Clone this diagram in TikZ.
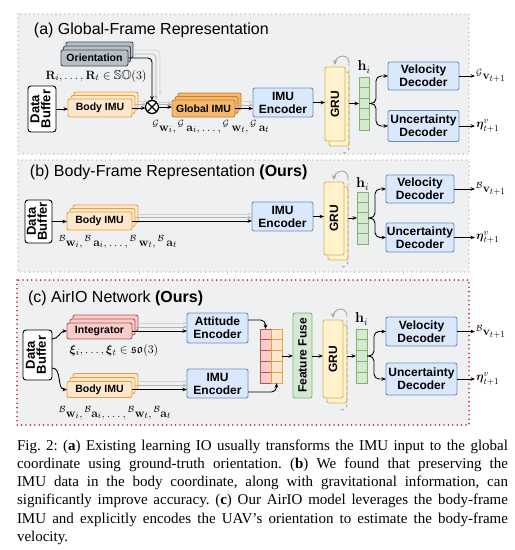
\documentclass[tikz,border=0pt]{standalone}
\usepackage[no-math]{fontspec}
\setmainfont{Liberation Serif}
\newfontfamily\dsans{Liberation Sans}
\usepackage{amsmath,amssymb}
\usepackage{graphicx}
\usetikzlibrary{arrows.meta,calc}
\definecolor{panelbg}{HTML}{EFF0F2}
\definecolor{pgray}{HTML}{BDBDBD}
\definecolor{pkhaki}{HTML}{C9C3AE}
\definecolor{pred}{HTML}{B52A2A}
\definecolor{encfill}{HTML}{DAE8FC}
\definecolor{encdraw}{HTML}{6C8EBF}
\definecolor{grnfill}{HTML}{D5E8D4}
\definecolor{grndraw}{HTML}{82B366}
\definecolor{gruf}{HTML}{FFF2CC}
\definecolor{grud}{HTML}{D6B656}
\definecolor{imuf}{HTML}{FFE6CC}
\definecolor{imud}{HTML}{E3A33B}
\definecolor{gimuf}{HTML}{F5B76C}
\definecolor{gimud}{HTML}{C4802A}
\definecolor{intf}{HTML}{F8CECC}
\definecolor{intd}{HTML}{B85450}
\definecolor{orif}{HTML}{B7BEC6}
\definecolor{orid}{HTML}{454C55}
\newcommand\mydbtext{\begin{tabular}{@{}c@{}}Data\\[-3pt]Buffer\end{tabular}}
\tikzset{
  every node/.style={inner sep=0pt, outer sep=0pt},
  panel/.style={fill=panelbg, line width=1.6pt, dash pattern=on 0pt off 4.4pt, line cap=round},
  ptitle/.style={anchor=west, font=\dsans\fontsize{16}{18}\selectfont},
  blk/.style={draw, rounded corners=2pt, line width=0.9pt, font=\dsans\bfseries\fontsize{12}{13}\selectfont, align=center},
  sblk/.style={blk, font=\dsans\bfseries\fontsize{10.5}{12}\selectfont},
  db/.style={blk, fill=white, draw=black, rounded corners=3pt, font=\dsans\bfseries\fontsize{13}{14}\selectfont},
  enc/.style={blk, fill=encfill, draw=encdraw},
  imu/.style={sblk, fill=imuf, draw=imud},
  gimu/.style={sblk, fill=gimuf, draw=gimud},
  intg/.style={sblk, fill=intf, draw=intd},
  ori/.style={sblk, fill=orif, draw=orid},
  gru/.style={blk, fill=gruf, draw=grud},
  ffuse/.style={blk, fill=grnfill, draw=grndraw},
  hcell/.style={draw=grndraw, fill=grnfill, line width=0.8pt},
  rcell/.style={draw=intd, fill=intf, line width=0.8pt},
  ocell/.style={draw=imud, fill=imuf, line width=0.8pt},
  mlab/.style={font=\fontsize{13}{15}\selectfont},
  hlab/.style={font=\fontsize{14}{16}\selectfont},
  arr/.style={-{Stealth[length=4.5pt,width=3.6pt]}, line width=0.9pt},
  garr/.style={-{Stealth[length=4pt,width=3.2pt]}, line width=0.7pt, draw=gray!60},
  garrl/.style={-{Stealth[length=4pt,width=3.2pt]}, line width=0.7pt, draw=gray!35},
  loopc/.style={draw=gray!70, line width=0.9pt},
  capt/.style={anchor=base west, font=\fontsize{15}{18}\selectfont\frenchspacing},
}
\begin{document}
\begin{tikzpicture}[x=1pt,y=-1pt]
\useasboundingbox (0,0) rectangle (515,550);
\fill[white] (0,0) rectangle (515,550);

% ---------------- panels
\draw[panel, draw=pgray] (18,14) rectangle (469,154);
\draw[panel, draw=pkhaki] (18,160) rectangle (469,272);
\draw[panel, draw=pred, line width=1.8pt] (17,280) rectangle (469,425);

\node[ptitle] (tA) at (34,30) {(a) Global-Frame Representation};
\node[ptitle] (tB) at (30,172) {(b) Body-Frame Representation \textbf{(Ours)}};
\node[ptitle] (tC) at (28,298) {(c) AirIO Network \textbf{(Ours)}};

% ================= panel (a)
\node[db, minimum width=28, minimum height=46] (dbA) at (42,109) {\rotatebox{90}{\mydbtext}};
\node[ori, minimum width=67, minimum height=16] (orA2) at (99.5,50) {};
\node[ori, minimum width=67, minimum height=16] (orA1) at (97,54) {};
\node[ori, minimum width=67, minimum height=16] (orA) at (94.5,58) {Orientation};
\node[imu, minimum width=64, minimum height=18] (bA2) at (106,101) {};
\node[imu, minimum width=64, minimum height=18] (bA1) at (103,104.5) {};
\node[imu, minimum width=64, minimum height=18] (bA) at (100,108) {Body IMU};
\node[circle, draw, line width=1.3pt, minimum size=13, fill=white] (otA) at (152,107) {};
\draw[line width=1.3pt] (otA.north west) -- (otA.south east) (otA.north east) -- (otA.south west);
\node[gimu, minimum width=63, minimum height=17] (gA2) at (209.5,101.5) {};
\node[gimu, minimum width=63, minimum height=17] (gA1) at (206.5,105) {};
\node[gimu, minimum width=63, minimum height=17] (gA) at (203.5,108.5) {Global IMU};
\node[enc, minimum width=60, minimum height=29] (encA) at (283,102.5) {IMU\\Encoder};
\node[gru, minimum width=20, minimum height=74] (gruA1) at (339,109) {};
\node[gru, minimum width=20, minimum height=74] (gruA) at (335,104) {\rotatebox{90}{GRU}};
\foreach \k in {0,...,4} \node[hcell, minimum width=10, minimum height=10.6] (hA\k) at (364,82.3+10.6*\k) {};
\node[hlab] (hlA) at (364,67) {$\mathbf{h}_i$};
\node[enc, minimum width=71, minimum height=28] (velA) at (423.5,76) {Velocity\\Decoder};
\node[enc, minimum width=71, minimum height=31] (uncA) at (423.5,126) {Uncertainty\\Decoder};
\coordinate (ovA) at (475,76);
\coordinate (ouA) at (475,126);
\node[mlab, anchor=west] (lvA) at (476,76) {$^{\mathcal{G}}\mathbf{v}_{t+1}$};
\node[mlab, anchor=west] (luA) at (476,126) {$\boldsymbol{\eta}^{v}_{t+1}$};
\node[mlab] (lRA) at (96,76) {$\mathbf{R}_i,\ldots,\mathbf{R}_t\in\mathbb{SO}(3)$};
\node[mlab] (lGA) at (211,127) {${}^{\mathcal{G}}\mathbf{w}_i, {}^{\mathcal{G}}\,\mathbf{a}_i,\ldots, {}^{\mathcal{G}}\,\mathbf{w}_t, {}^{\mathcal{G}}\,\mathbf{a}_t$};

\draw[arr] (dbA.east) -- (dbA.east -| bA.west);
\draw[garrl, rounded corners=4] (orA2.east) -| ($(otA.north)+(8,-6)$);
\draw[garr, rounded corners=4] (orA1.east) -| ($(otA.north)+(4,-1)$);
\draw[arr, rounded corners=4] (orA.east) -| (otA.north);
\draw[garrl] (bA2.east) -- ($(bA2.east -| otA.west)+(3,0)$);
\draw[garr] (bA1.east) -- ($(bA1.east -| otA.west)+(1,0)$);
\draw[arr] (bA.east) -- (bA.east -| otA.west);
\draw[garrl] ($(otA.east)+(-2,-5)$) -- ($(otA.east -| gA.west)+(0,-5)$);
\draw[garr] ($(otA.east)+(-1,-2.5)$) -- ($(otA.east -| gA.west)+(0,-2.5)$);
\draw[arr] (otA.east) -- (otA.east -| gA.west);
\draw[garrl] (gA2.east) -- (gA2.east -| encA.west);
\draw[garr] (gA1.east) -- (gA1.east -| encA.west);
\draw[arr] (gA.east) -- (gA.east -| encA.west);
\draw[arr] (encA.east) -- (encA.east -| gruA.west);
\draw[arr] (gruA1.east |- hA2) -- (hA2.west);
\draw[arr, rounded corners=5] (hA2.east) -- ++(7,0) |- (velA.west);
\draw[arr, rounded corners=5] (hA2.east) -- ++(7,0) |- (uncA.west);
\draw[arr] (velA.east) -- (ovA);
\draw[arr] (uncA.east) -- (ouA);
\draw[loopc, dashed] ($(gruA1.south east)+(-6,7)$) to[out=0,in=-90] ($(gruA1.south east)+(0,1)$) -- ($(gruA1.north east)+(0,-9)$);
\draw[loopc, -{Stealth[length=5pt,width=4.5pt]}] ($(gruA1.north east)+(0,-9)$) to[out=90,in=0] ($(gruA1.north east)+(-6,-16)$) to[out=180,in=90] ($(gruA.north)+(0,-2)$);

% ================= panel (b)
\node[db, minimum width=27, minimum height=43] (dbB) at (38.5,221.5) {\rotatebox{90}{\mydbtext}};
\node[imu, minimum width=65, minimum height=18] (bB2) at (105.5,214) {};
\node[imu, minimum width=65, minimum height=18] (bB1) at (102.5,217.5) {};
\node[imu, minimum width=65, minimum height=18] (bB) at (99.5,221) {Body IMU};
\node[enc, minimum width=61, minimum height=29] (encB) at (282.5,216.5) {IMU\\Encoder};
\node[gru, minimum width=20, minimum height=73] (gruB1) at (338,223.5) {};
\node[gru, minimum width=20, minimum height=73] (gruB) at (334,218.5) {\rotatebox{90}{GRU}};
\foreach \k in {0,...,4} \node[hcell, minimum width=11, minimum height=10.4] (hB\k) at (362.5,197.2+10.4*\k) {};
\node[hlab] (hlB) at (362.5,184) {$\mathbf{h}_i$};
\node[enc, minimum width=68, minimum height=28] (velB) at (420,189) {Velocity\\Decoder};
\node[enc, minimum width=68, minimum height=29] (uncB) at (420,237.5) {Uncertainty\\Decoder};
\coordinate (ovB) at (475,189);
\coordinate (ouB) at (475,237.5);
\node[mlab, anchor=west] (lvB) at (476,189) {$^{\mathcal{B}}\mathbf{v}_{t+1}$};
\node[mlab, anchor=west] (luB) at (476,237.5) {$\boldsymbol{\eta}^{v}_{t+1}$};
\node[mlab] (lBB) at (118,242) {${}^{\mathcal{B}}\mathbf{w}_i, {}^{\mathcal{B}}\,\mathbf{a}_i,\ldots, {}^{\mathcal{B}}\,\mathbf{w}_t, {}^{\mathcal{B}}\,\mathbf{a}_t$};

\draw[arr] (dbB.east) -- (dbB.east -| bB.west);
\draw[garrl] (bB2.east) -- (bB2.east -| encB.west);
\draw[garr] (bB1.east) -- (bB1.east -| encB.west);
\draw[arr] (bB.east) -- (bB.east -| encB.west);
\draw[arr] (encB.east) -- (encB.east -| gruB.west);
\draw[arr] (gruB1.east |- hB2) -- (hB2.west);
\draw[arr, rounded corners=5] (hB2.east) -- ++(7,0) |- (velB.west);
\draw[arr, rounded corners=5] (hB2.east) -- ++(7,0) |- (uncB.west);
\draw[arr] (velB.east) -- (ovB);
\draw[arr] (uncB.east) -- (ouB);
\draw[loopc, dashed] ($(gruB1.south east)+(-6,7)$) to[out=0,in=-90] ($(gruB1.south east)+(0,1)$) -- ($(gruB1.north east)+(0,-9)$);
\draw[loopc, -{Stealth[length=5pt,width=4.5pt]}] ($(gruB1.north east)+(0,-9)$) to[out=90,in=0] ($(gruB1.north east)+(-6,-16)$) to[out=180,in=90] ($(gruB.north)+(0,-2)$);

% ================= panel (c)
\node[db, minimum width=29, minimum height=50] (dbC) at (37.5,355) {\rotatebox{90}{\mydbtext}};
\node[intg, minimum width=65, minimum height=16] (intC2) at (105.5,323) {};
\node[intg, minimum width=65, minimum height=16] (intC1) at (102.5,327) {};
\node[intg, minimum width=65, minimum height=16] (intC) at (99.5,331) {Integrator};
\node[imu, minimum width=65, minimum height=16] (bC2) at (105.5,381.5) {};
\node[imu, minimum width=65, minimum height=16] (bC1) at (102.5,385.5) {};
\node[imu, minimum width=65, minimum height=16] (bC) at (99.5,389.5) {Body IMU};
\node[mlab] (lxC) at (114,350) {$\boldsymbol{\xi}_i,\ldots,\boldsymbol{\xi}_t\in\mathfrak{so}(3)$};
\node[mlab] (lBC) at (115,413) {${}^{\mathcal{B}}\mathbf{w}_i, {}^{\mathcal{B}}\mathbf{a}_i,\ldots, {}^{\mathcal{B}}\mathbf{w}_t, {}^{\mathcal{B}}\mathbf{a}_t$};
\node[enc, minimum width=61, minimum height=30] (attC) at (217.5,328) {Attitude\\Encoder};
\node[enc, minimum width=61, minimum height=29] (imuC) at (217.5,383.5) {IMU\\Encoder};
\foreach \k in {0,...,4} {
  \node[rcell, minimum width=11, minimum height=10.8] (mL\k) at (265.5,334.4+10.8*\k) {};
  \node[ocell, minimum width=11, minimum height=10.8] (mR\k) at (276.5,334.4+10.8*\k) {};
}
\node[ffuse, minimum width=19, minimum height=85] (ffC) at (302.5,355.5) {\rotatebox{90}{Feature Fuse}};
\node[gru, minimum width=20, minimum height=78] (gruC1) at (337,364) {};
\node[gru, minimum width=20, minimum height=78] (gruC) at (333,359) {\rotatebox{90}{GRU}};
\foreach \k in {0,...,4} \node[hcell, minimum width=11, minimum height=10.8] (hC\k) at (361.5,334.4+10.8*\k) {};
\node[hlab] (hlC) at (361.5,319) {$\mathbf{h}_i$};
\node[enc, minimum width=71, minimum height=29] (velC) at (421.5,331.5) {Velocity\\Decoder};
\node[enc, minimum width=71, minimum height=32] (uncC) at (421.5,379) {Uncertainty\\Decoder};
\coordinate (ovC) at (475,331.5);
\coordinate (ouC) at (475,379);
\node[mlab, anchor=west] (lvC) at (476,331.5) {$^{\mathcal{B}}\mathbf{v}_{t+1}$};
\node[mlab, anchor=west] (luC) at (476,379) {$\boldsymbol{\eta}^{v}_{t+1}$};

\draw[arr] ($(dbC.east)+(0,-16)$) to[out=0,in=180] (intC.west);
\draw[arr] ($(dbC.east)+(0,13)$) to[out=0,in=180] (bC.west);
\draw[garrl] (intC2.east) -- (intC2.east -| attC.west);
\draw[garr] (intC1.east) -- (intC1.east -| attC.west);
\draw[arr] (intC.east) -- (intC.east -| attC.west);
\draw[garrl] (bC2.east) -- (bC2.east -| imuC.west);
\draw[garr] (bC1.east) -- (bC1.east -| imuC.west);
\draw[arr] (bC.east) -- (bC.east -| imuC.west);
\draw[arr, rounded corners=5] ($(attC.east)+(0,-8)$) -| (mL0.north);
\draw[arr, rounded corners=5] ($(imuC.east)+(0,8.5)$) -| (mR4.south);
\draw[arr] (mR2.east) -- (mR2.east -| ffC.west);
\draw[arr] (ffC.east |- mR2) -- (mR2 -| gruC.west);
\draw[arr] (gruC1.east |- hC2) -- (hC2.west);
\draw[arr, rounded corners=5] (hC2.east) -- ++(7,0) |- (velC.west);
\draw[arr, rounded corners=5] (hC2.east) -- ++(7,0) |- (uncC.west);
\draw[arr] (velC.east) -- (ovC);
\draw[arr] (uncC.east) -- (ouC);
\draw[loopc, dashed] ($(gruC1.south east)+(-6,7)$) to[out=0,in=-90] ($(gruC1.south east)+(0,1)$) -- ($(gruC1.north east)+(0,-9)$);
\draw[loopc, -{Stealth[length=5pt,width=4.5pt]}] ($(gruC1.north east)+(0,-9)$) to[out=90,in=0] ($(gruC1.north east)+(-6,-16)$) to[out=180,in=90] ($(gruC.north)+(0,-2)$);

% ================= caption
\node[capt] (c1) at (17,450) {\makebox[491pt][s]{Fig.~2: (\textbf{a}) Existing learning IO usually transforms the IMU input to the global}};
\node[capt] (c2) at (17,468.3) {\makebox[491pt][s]{coordinate using ground-truth orientation. (\textbf{b}) We found that preserving the}};
\node[capt] (c3) at (17,486.6) {\makebox[491pt][s]{IMU data in the body coordinate, along with gravitational information, can}};
\node[capt] (c4) at (17,504.9) {\makebox[491pt][s]{significantly improve accuracy. (\textbf{c}) Our AirIO model leverages the body-frame}};
\node[capt] (c5) at (17,523.2) {\makebox[491pt][s]{IMU and explicitly encodes the UAV’s orientation to estimate the body-frame}};
\node[capt] (c6) at (17,541.5) {velocity.};
\end{tikzpicture}
\end{document}
